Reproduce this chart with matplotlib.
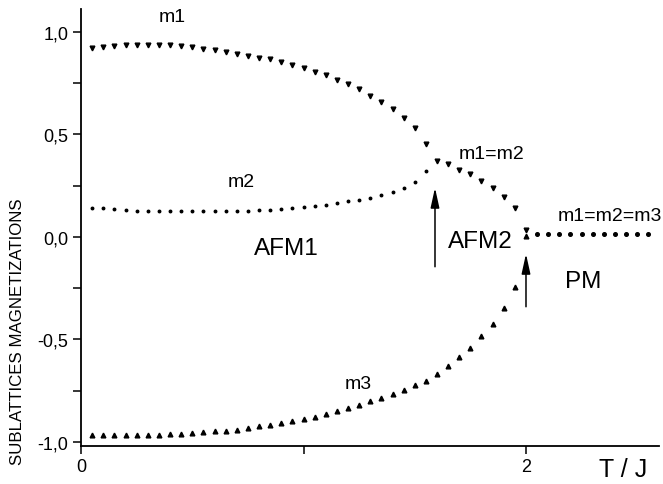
import matplotlib
matplotlib.use("Agg")
import matplotlib.pyplot as plt
from matplotlib.ticker import FixedLocator, FixedFormatter

plt.rcParams['font.family'] = ['Liberation Sans', 'DejaVu Sans']

# ---- data ----
T_m1 = [0.05, 0.10, 0.15, 0.20, 0.25, 0.30, 0.35, 0.40, 0.45, 0.50,
        0.55, 0.60, 0.65, 0.70, 0.75, 0.80, 0.85, 0.90, 0.95, 1.00,
        1.05, 1.10, 1.15, 1.20, 1.25, 1.30, 1.35, 1.40, 1.45, 1.50,
        1.55, 1.60, 1.65, 1.70, 1.75, 1.80, 1.85, 1.90, 1.95, 2.00]
m1 = [0.920, 0.925, 0.930, 0.933, 0.937, 0.937, 0.937, 0.933, 0.930, 0.925,
      0.917, 0.909, 0.901, 0.893, 0.884, 0.873, 0.865, 0.852, 0.839, 0.823,
      0.806, 0.787, 0.767, 0.743, 0.719, 0.689, 0.659, 0.624, 0.580, 0.530,
      0.454, 0.369, 0.353, 0.328, 0.304, 0.272, 0.238, 0.194, 0.141, 0.034]

T_m2 = [0.05, 0.10, 0.15, 0.20, 0.25, 0.30, 0.35, 0.40, 0.45, 0.50,
        0.55, 0.60, 0.65, 0.70, 0.75, 0.80, 0.85, 0.90, 0.95, 1.00,
        1.05, 1.10, 1.15, 1.20, 1.25, 1.30, 1.35, 1.40, 1.45, 1.50, 1.55]
m2 = [0.141, 0.141, 0.137, 0.133, 0.128, 0.125, 0.125, 0.125, 0.125, 0.125,
      0.125, 0.125, 0.125, 0.128, 0.128, 0.133, 0.133, 0.137, 0.140, 0.143,
      0.148, 0.156, 0.166, 0.174, 0.180, 0.189, 0.205, 0.218, 0.240, 0.267, 0.320]

T_m3 = T_m1
m3 = [-0.966, -0.966, -0.966, -0.966, -0.966, -0.966, -0.966, -0.964, -0.961, -0.956,
      -0.953, -0.948, -0.945, -0.940, -0.933, -0.925, -0.917, -0.909, -0.899, -0.889,
      -0.877, -0.863, -0.850, -0.836, -0.820, -0.803, -0.785, -0.767, -0.746, -0.725,
      -0.704, -0.670, -0.630, -0.587, -0.541, -0.486, -0.424, -0.348, -0.245, 0.002]

T_pm = [2.05, 2.10, 2.15, 2.20, 2.25, 2.30, 2.35, 2.40, 2.45, 2.50, 2.55]
m_pm = [0.015, 0.015, 0.015, 0.015, 0.015, 0.015, 0.015, 0.015, 0.015, 0.015, 0.015]

y_ticks = [-1.0, -0.5, 0.0, 0.5, 1.0]
y_ticklabels = ["-1,0", "-0,5", "0,0", "0,5", "1,0"]
x_ticks = [0, 1, 2]
x_ticklabels = ["0", "", "2"]

# ---- figure ----
fig = plt.figure(figsize=(6.63, 4.85), dpi=100)
ax = fig.add_axes([0.1222, 0.0784, 0.8725, 0.9006])

ax.plot(T_m1, m1, linestyle='none', marker='v', markersize=3.4, color='black')
ax.plot(T_m2, m2, linestyle='none', marker='o', markersize=1.8, color='black')
ax.plot(T_m3, m3, linestyle='none', marker='^', markersize=3.4, color='black')
ax.plot(T_pm, m_pm, linestyle='none', marker='o', markersize=2.6, color='black')

ax.set_xlim(0, 2.6)
ax.set_ylim(-1.02, 1.11)

for s in ['top', 'right']:
    ax.spines[s].set_visible(False)
for s in ['left', 'bottom']:
    ax.spines[s].set_linewidth(1.3)

ax.yaxis.set_major_locator(FixedLocator(y_ticks))
ax.yaxis.set_major_formatter(FixedFormatter(y_ticklabels))
ax.yaxis.set_minor_locator(FixedLocator([-0.75, -0.25, 0.25, 0.75]))
ax.xaxis.set_major_locator(FixedLocator(x_ticks))
ax.xaxis.set_major_formatter(FixedFormatter(x_ticklabels))
ax.tick_params(axis='both', which='both', direction='out', length=6, width=1.1,
               labelsize=13, pad=3, color='black')

ax.set_ylabel("SUBLATTICES MAGNETIZATIONS", fontsize=12.2)
ax.yaxis.set_label_coords(-0.097, 0.265)

fs_small = 14
ax.text(0.41, 1.073, "m1", fontsize=fs_small, ha='center', va='center')
ax.text(0.72, 0.268, "m2", fontsize=fs_small, ha='center', va='center')
ax.text(1.245, -0.717, "m3", fontsize=fs_small, ha='center', va='center')
ax.text(1.846, 0.405, "m1=m2", fontsize=fs_small, ha='center', va='center')
ax.text(2.378, 0.104, "m1=m2=m3", fontsize=fs_small, ha='center', va='center')

fs_big = 17.5
ax.text(0.921, -0.054, "AFM1", fontsize=fs_big, ha='center', va='center')
ax.text(1.793, -0.02, "AFM2", fontsize=fs_big, ha='center', va='center')
ax.text(2.256, -0.215, "PM", fontsize=fs_big, ha='center', va='center')

fig.text(623 / 663, 1 - 470 / 485, "T / J", fontsize=18, ha='center', va='center')

arrow_kw = dict(arrowstyle='-|>,head_length=1.0,head_width=0.22', lw=1.1,
                color='black', mutation_scale=12, shrinkA=0, shrinkB=0)
ax.annotate("", xy=(1.591, 0.239), xytext=(1.591, -0.146), arrowprops=arrow_kw)
ax.annotate("", xy=(2.0, -0.083), xytext=(2.0, -0.341), arrowprops=arrow_kw)

fig.savefig("out.png", dpi=100)
